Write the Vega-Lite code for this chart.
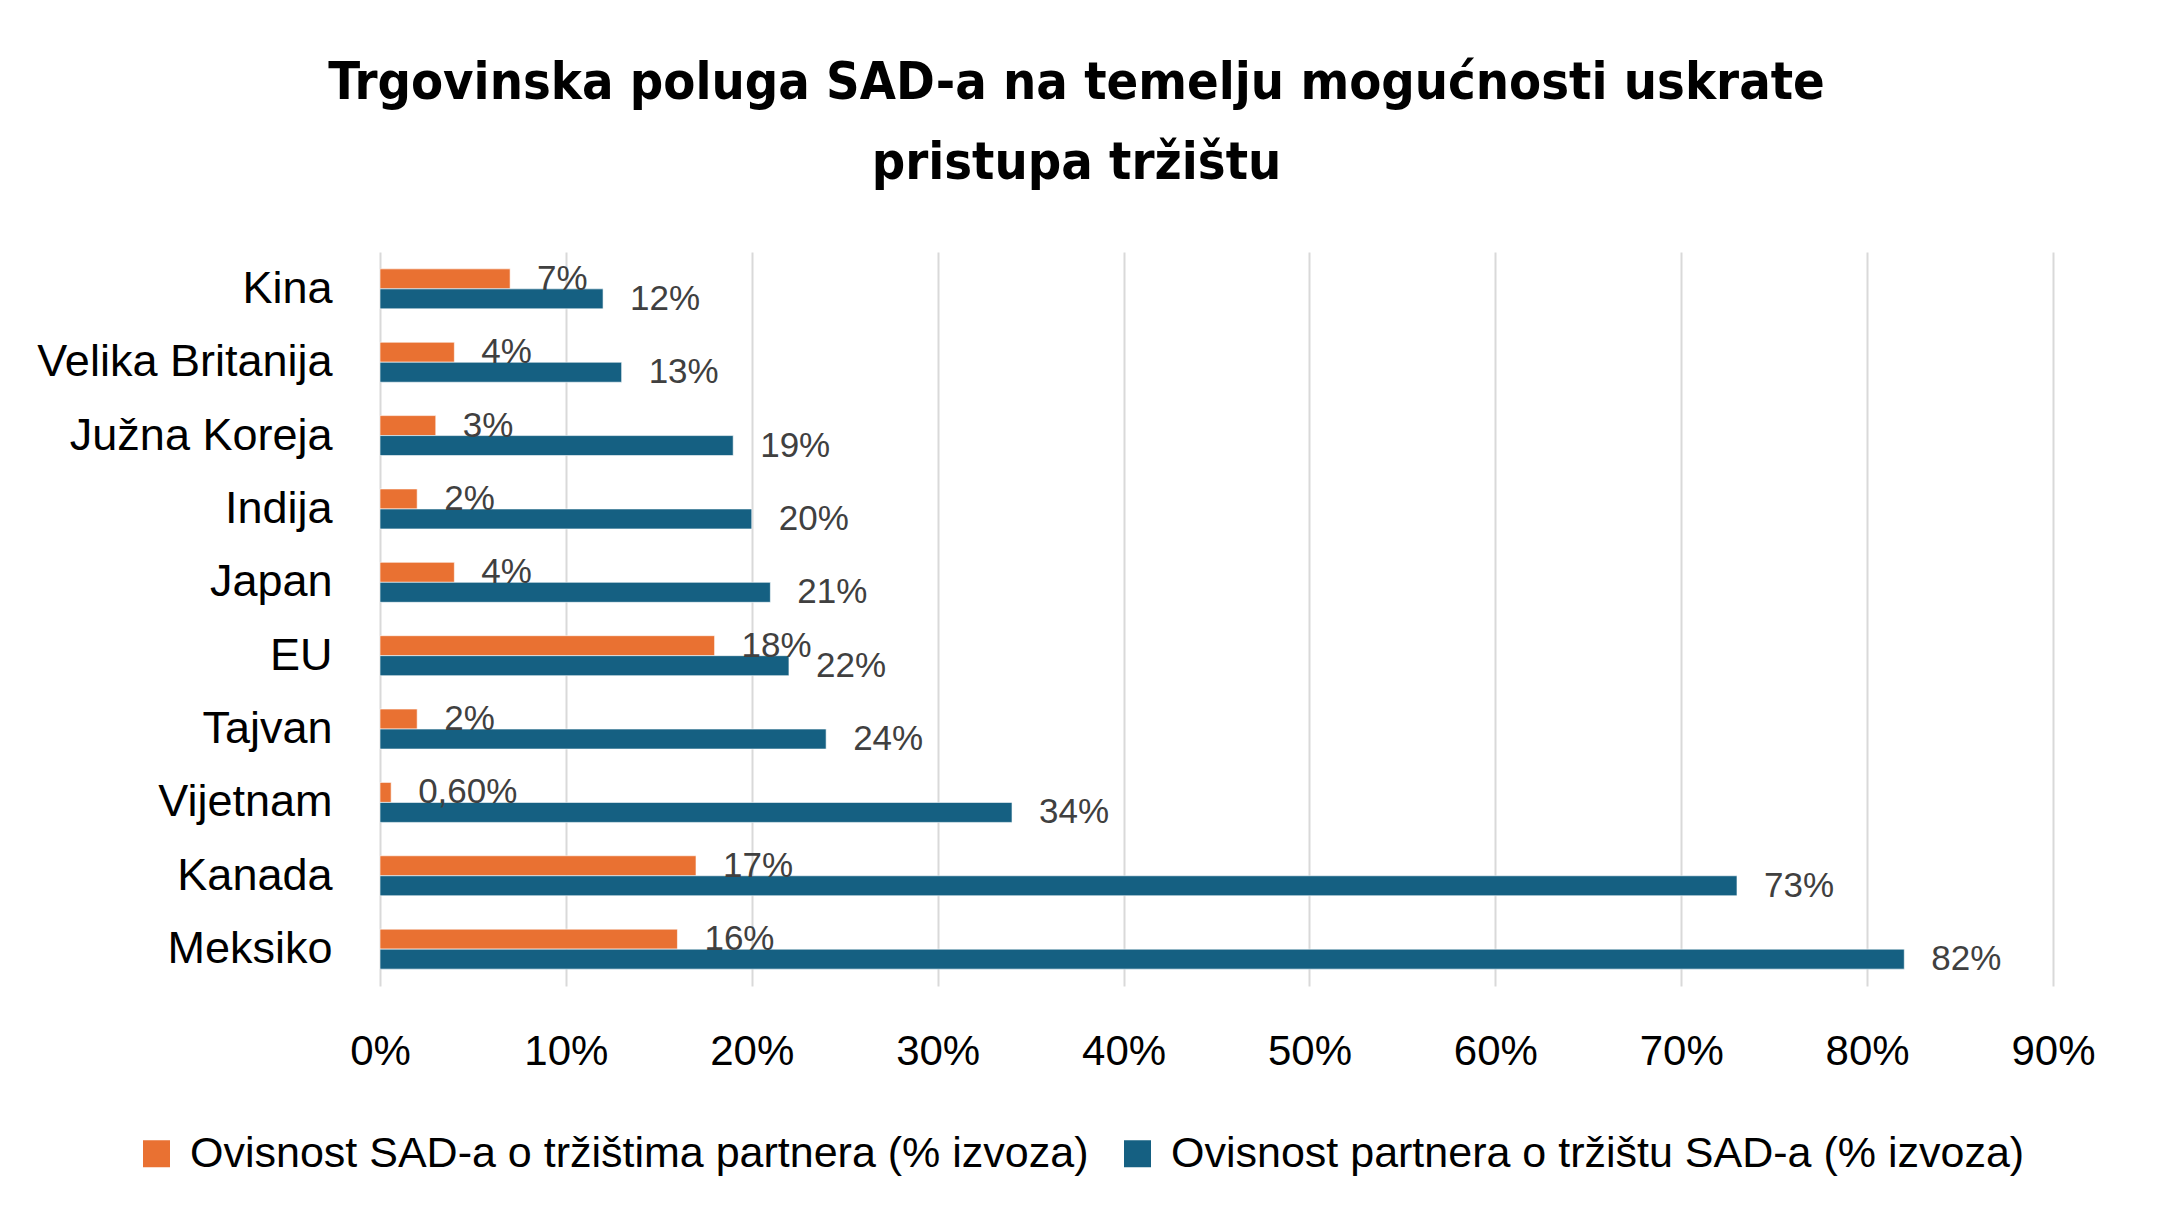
{
  "$schema": "https://vega.github.io/schema/vega-lite/v6.json",
  "width": 1673,
  "height": 734,
  "autosize": "none",
  "padding": {"left": 380, "top": 252, "right": 105, "bottom": 246},
  "background": "white",
  "title": {
    "text": ["Trgovinska poluga SAD-a na temelju mogućnosti uskrate", "pristupa tržištu"],
    "anchor": "middle",
    "dx": -140,
    "offset": 62,
    "font": "DejaVu Sans Condensed, Liberation Sans",
    "fontSize": 52,
    "fontWeight": "bold",
    "color": "#000000",
    "lineHeight": 80
  },
  "config": {
    "view": {"stroke": null},
    "font": "Liberation Sans"
  },
  "data": {
    "values": [
      {"country": "Kina", "series": "Ovisnost SAD-a o tržištima partnera (% izvoza)", "value": 0.07, "label": "7%"},
      {"country": "Kina", "series": "Ovisnost partnera o tržištu SAD-a (% izvoza)", "value": 0.12, "label": "12%"},
      {"country": "Velika Britanija", "series": "Ovisnost SAD-a o tržištima partnera (% izvoza)", "value": 0.04, "label": "4%"},
      {"country": "Velika Britanija", "series": "Ovisnost partnera o tržištu SAD-a (% izvoza)", "value": 0.13, "label": "13%"},
      {"country": "Južna Koreja", "series": "Ovisnost SAD-a o tržištima partnera (% izvoza)", "value": 0.03, "label": "3%"},
      {"country": "Južna Koreja", "series": "Ovisnost partnera o tržištu SAD-a (% izvoza)", "value": 0.19, "label": "19%"},
      {"country": "Indija", "series": "Ovisnost SAD-a o tržištima partnera (% izvoza)", "value": 0.02, "label": "2%"},
      {"country": "Indija", "series": "Ovisnost partnera o tržištu SAD-a (% izvoza)", "value": 0.20, "label": "20%"},
      {"country": "Japan", "series": "Ovisnost SAD-a o tržištima partnera (% izvoza)", "value": 0.04, "label": "4%"},
      {"country": "Japan", "series": "Ovisnost partnera o tržištu SAD-a (% izvoza)", "value": 0.21, "label": "21%"},
      {"country": "EU", "series": "Ovisnost SAD-a o tržištima partnera (% izvoza)", "value": 0.18, "label": "18%"},
      {"country": "EU", "series": "Ovisnost partnera o tržištu SAD-a (% izvoza)", "value": 0.22, "label": "22%"},
      {"country": "Tajvan", "series": "Ovisnost SAD-a o tržištima partnera (% izvoza)", "value": 0.02, "label": "2%"},
      {"country": "Tajvan", "series": "Ovisnost partnera o tržištu SAD-a (% izvoza)", "value": 0.24, "label": "24%"},
      {"country": "Vijetnam", "series": "Ovisnost SAD-a o tržištima partnera (% izvoza)", "value": 0.006, "label": "0,60%"},
      {"country": "Vijetnam", "series": "Ovisnost partnera o tržištu SAD-a (% izvoza)", "value": 0.34, "label": "34%"},
      {"country": "Kanada", "series": "Ovisnost SAD-a o tržištima partnera (% izvoza)", "value": 0.17, "label": "17%"},
      {"country": "Kanada", "series": "Ovisnost partnera o tržištu SAD-a (% izvoza)", "value": 0.73, "label": "73%"},
      {"country": "Meksiko", "series": "Ovisnost SAD-a o tržištima partnera (% izvoza)", "value": 0.16, "label": "16%"},
      {"country": "Meksiko", "series": "Ovisnost partnera o tržištu SAD-a (% izvoza)", "value": 0.82, "label": "82%"}
    ]
  },
  "encoding": {
    "y": {
      "field": "country",
      "type": "nominal",
      "sort": null,
      "scale": {"paddingInner": 0.455, "paddingOuter": 0.23},
      "axis": {
        "title": null,
        "domain": false,
        "ticks": false,
        "grid": false,
        "labelFontSize": 45,
        "labelColor": "#000000",
        "labelPadding": 48,
        "labelLimit": 400
      }
    },
    "yOffset": {
      "field": "series",
      "type": "nominal",
      "sort": ["Ovisnost SAD-a o tržištima partnera (% izvoza)", "Ovisnost partnera o tržištu SAD-a (% izvoza)"]
    },
    "x": {
      "field": "value",
      "type": "quantitative",
      "scale": {"domain": [0, 0.9], "nice": false},
      "axis": {
        "title": null,
        "values": [0, 0.1, 0.2, 0.3, 0.4, 0.5, 0.6, 0.7, 0.8, 0.9],
        "format": ".0%",
        "domain": false,
        "ticks": false,
        "grid": true,
        "gridColor": "#d9d9d9",
        "gridWidth": 2,
        "labelFontSize": 42,
        "labelColor": "#000000",
        "labelPadding": 45,
        "labelFlush": false
      }
    }
  },
  "layer": [
    {
      "mark": {"type": "bar", "stroke": "#ffffff", "strokeWidth": 1, "strokeOpacity": 0.6},
      "encoding": {
        "color": {
          "field": "series",
          "type": "nominal",
          "scale": {
            "domain": ["Ovisnost SAD-a o tržištima partnera (% izvoza)", "Ovisnost partnera o tržištu SAD-a (% izvoza)"],
            "range": ["#e97132", "#156082"]
          },
          "legend": {
            "title": null,
            "orient": "none",
            "direction": "horizontal",
            "legendX": -245,
            "legendY": 880,
            "symbolType": "square",
            "symbolSize": 729,
            "symbolStrokeWidth": 0,
            "labelFontSize": 43,
            "labelColor": "#000000",
            "labelOffset": 12,
            "labelLimit": 1200,
            "columnPadding": 27
          }
        }
      }
    },
    {
      "mark": {"type": "text", "align": "left", "baseline": "middle", "dx": 27, "fontSize": 35, "color": "#404040"},
      "encoding": {
        "text": {"field": "label"}
      }
    }
  ]
}
